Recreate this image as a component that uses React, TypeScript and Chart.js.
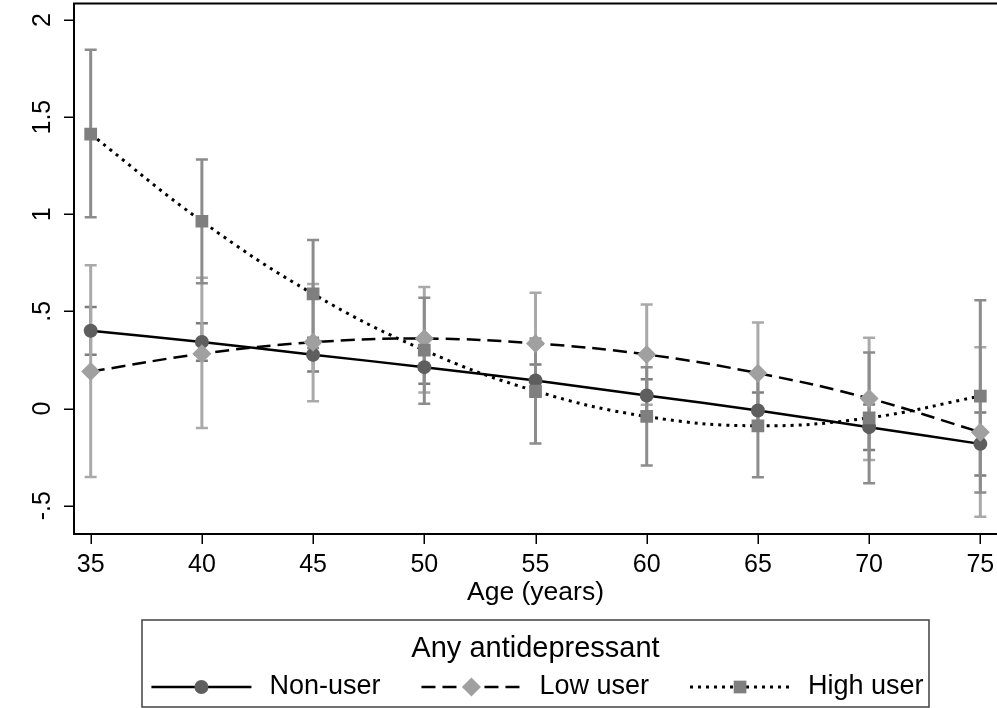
import React, { useEffect, useRef } from "react";
import { Chart, registerables } from "chart.js";

Chart.register(...registerables);

const FONT = '"Liberation Sans", Arial, Helvetica, sans-serif';

// ---- data ----
const ages = [35, 40, 45, 50, 55, 60, 65, 70, 75];

const nonUser = [0.40, 0.343, 0.277, 0.213, 0.144, 0.067, -0.01, -0.096, -0.182];
const nonUserLo = [0.277, 0.246, 0.19, 0.127, 0.06, -0.017, -0.10, -0.213, -0.345];
const nonUserHi = [0.522, 0.439, 0.364, 0.30, 0.227, 0.151, 0.082, 0.021, -0.021];

const lowUser = [0.19, 0.282, 0.341, 0.36, 0.335, 0.278, 0.182, 0.052, -0.122];
const lowUserLo = [-0.353, -0.10, 0.038, 0.082, 0.07, 0.02, -0.08, -0.265, -0.557];
const lowUserHi = [0.737, 0.673, 0.641, 0.625, 0.596, 0.536, 0.443, 0.364, 0.316];

const highUser = [1.413, 0.964, 0.59, 0.30, 0.09, -0.041, -0.089, -0.048, 0.064];
const highUserLo = [0.984, 0.645, 0.312, 0.024, -0.18, -0.294, -0.354, -0.385, -0.433];
const highUserHi = [1.847, 1.282, 0.868, 0.57, 0.36, 0.212, 0.176, 0.289, 0.557];

const xTicks = [35, 40, 45, 50, 55, 60, 65, 70, 75];
const xTickLabels = ["35", "40", "45", "50", "55", "60", "65", "70", "75"];
const yTicks = [-0.5, 0, 0.5, 1, 1.5, 2];
const yTickLabels = ["-.5", "0", ".5", "1", "1.5", "2"];

const seriesNames = ["Non-user", "Low user", "High user"];
const legendTitle = "Any antidepressant";
const xTitle = "Age (years)";

// ---- styles ----
const markerColors = ["#5e5e5e", "#a0a0a0", "#7f7f7f"];
const barColors = ["#7c7c7c", "#a9a9a9", "#8c8c8c"];
const pointStyles = ["circle", "rectRot", "rect"];
const pointRadii = [7, 9.5, 9];
const dashes: number[][] = [[], [14, 7], [3, 5]];
const lineWidths = [2.5, 2.5, 3];

const lows = [nonUserLo, lowUserLo, highUserLo];
const highs = [nonUserHi, lowUserHi, highUserHi];
const values = [nonUser, lowUser, highUser];

function drawMarker(ctx: CanvasRenderingContext2D, style: string, x: number, y: number, r: number, color: string) {
  ctx.save();
  ctx.fillStyle = color;
  ctx.beginPath();
  if (style === "circle") {
    ctx.arc(x, y, r, 0, Math.PI * 2);
  } else if (style === "rectRot") {
    ctx.moveTo(x - r, y);
    ctx.lineTo(x, y - r);
    ctx.lineTo(x + r, y);
    ctx.lineTo(x, y + r);
    ctx.closePath();
  } else {
    const s = Math.SQRT1_2 * r;
    ctx.rect(x - s, y - s, 2 * s, 2 * s);
  }
  ctx.fill();
  ctx.restore();
}

const errorBarPlugin = {
  id: "errorBars",
  beforeDatasetsDraw(chart: any) {
    const ctx: CanvasRenderingContext2D = chart.ctx;
    const xs = chart.scales.x;
    const ys = chart.scales.y;
    ctx.save();
    for (let s = 0; s < 3; s++) {
      ctx.strokeStyle = barColors[s];
      for (let i = 0; i < ages.length; i++) {
        const x = xs.getPixelForValue(ages[i]);
        const y1 = ys.getPixelForValue(lows[s][i]);
        const y2 = ys.getPixelForValue(highs[s][i]);
        ctx.lineWidth = 3;
        ctx.beginPath();
        ctx.moveTo(x, y1);
        ctx.lineTo(x, y2);
        ctx.stroke();
        ctx.lineWidth = 2.5;
        ctx.beginPath();
        ctx.moveTo(x - 6, y1);
        ctx.lineTo(x + 6, y1);
        ctx.moveTo(x - 6, y2);
        ctx.lineTo(x + 6, y2);
        ctx.stroke();
      }
    }
    ctx.restore();
  },
};

const decorPlugin = {
  id: "decor",
  afterDraw(chart: any) {
    const ctx: CanvasRenderingContext2D = chart.ctx;
    const area = chart.chartArea;
    const xs = chart.scales.x;
    const ys = chart.scales.y;
    const W = chart.width;
    ctx.save();
    // frame: top line, bottom axis line, left axis line
    ctx.strokeStyle = "#000";
    ctx.lineWidth = 2;
    ctx.beginPath();
    ctx.moveTo(area.left, area.top);
    ctx.lineTo(W, area.top);
    ctx.moveTo(area.left - 1, area.bottom);
    ctx.lineTo(W, area.bottom);
    ctx.moveTo(area.left, area.top - 1);
    ctx.lineTo(area.left, area.bottom + 1);
    ctx.stroke();

    // tick marks
    ctx.lineWidth = 1.5;
    ctx.beginPath();
    xTicks.forEach((v) => {
      const x = Math.round(xs.getPixelForValue(v)) + 0.25;
      ctx.moveTo(x, area.bottom);
      ctx.lineTo(x, area.bottom + 10);
    });
    yTicks.forEach((v) => {
      const y = Math.round(ys.getPixelForValue(v)) + 0.25;
      ctx.moveTo(area.left, y);
      ctx.lineTo(area.left - 10, y);
    });
    ctx.stroke();

    ctx.fillStyle = "#000";
    ctx.textAlign = "center";
    ctx.textBaseline = "middle";

    // x tick labels
    ctx.font = `25px ${FONT}`;
    xTicks.forEach((v, i) => {
      ctx.fillText(xTickLabels[i], xs.getPixelForValue(v), area.bottom + 31);
    });

    // y tick labels (rotated)
    yTicks.forEach((v, i) => {
      const y = ys.getPixelForValue(v);
      ctx.save();
      ctx.translate(area.left - 31, y);
      ctx.rotate(-Math.PI / 2);
      ctx.fillText(yTickLabels[i], 0, 0);
      ctx.restore();
    });

    const plotCx = (xs.getPixelForValue(34.25) + xs.getPixelForValue(75.75)) / 2;
    // x title
    ctx.font = `26.5px ${FONT}`;
    ctx.fillText(xTitle, plotCx, area.bottom + 59);

    // legend
    const boxTop = area.bottom + 86;
    const boxW = 787;
    const boxH = 87;
    ctx.strokeStyle = "#404040";
    ctx.lineWidth = 1.5;
    ctx.strokeRect(plotCx - boxW / 2, boxTop, boxW, boxH);

    ctx.font = `29px ${FONT}`;
    ctx.fillText(legendTitle, plotCx, boxTop + 29);

    ctx.font = `27px ${FONT}`;
    const sample = 100;
    const gapText = 18;
    const gapEntry = 41;
    const widths = seriesNames.map((n) => ctx.measureText(n).width);
    const total = widths.reduce((a, w) => a + sample + gapText + w, 0) + gapEntry * 2;
    let x = plotCx - total / 2 + 2;
    const ly = boxTop + 67;
    seriesNames.forEach((name, s) => {
      ctx.strokeStyle = "#000";
      ctx.lineWidth = lineWidths[s];
      ctx.setLineDash(dashes[s]);
      ctx.beginPath();
      ctx.moveTo(x, ly);
      ctx.lineTo(x + sample, ly);
      ctx.stroke();
      ctx.setLineDash([]);
      drawMarker(ctx, pointStyles[s], x + sample / 2, ly, pointRadii[s], markerColors[s]);
      ctx.fillStyle = "#000";
      ctx.textAlign = "left";
      ctx.fillText(name, x + sample + gapText, ly);
      x += sample + gapText + widths[s] + gapEntry;
    });
    ctx.restore();
  },
};

export default function App() {
  const ref = useRef<HTMLCanvasElement>(null);
  useEffect(() => {
    const canvas = ref.current;
    if (!canvas) return;
    const datasets = values.map((vals, s) => ({
      label: seriesNames[s],
      data: ages.map((a, i) => ({ x: a, y: vals[i] })),
      borderColor: "#000",
      borderWidth: lineWidths[s],
      borderDash: dashes[s],
      tension: 0.4,
      fill: false,
      pointStyle: pointStyles[s] as any,
      pointRadius: pointRadii[s],
      pointBackgroundColor: markerColors[s],
      pointBorderWidth: 0,
      pointBorderColor: markerColors[s],
      order: 3 - s,
    }));
    const chart = new Chart(canvas, {
      type: "line",
      data: { datasets },
      options: {
        animation: false,
        responsive: false,
        devicePixelRatio: 1,
        layout: { autoPadding: false, padding: { left: 0, right: 0, top: 3.5, bottom: 94 } },
        plugins: { legend: { display: false }, tooltip: { enabled: false } },
        scales: {
          x: {
            type: "linear",
            min: 34.25,
            max: 75.75,
            afterBuildTicks: (s: any) => {
              s.ticks = xTicks.map((v) => ({ value: v }));
            },
            afterFit: (s: any) => {
              s.height = 80;
            },
            grid: { display: false },
            border: { display: false },
            ticks: { display: false },
          },
          y: {
            type: "linear",
            min: -0.646,
            max: 2.085,
            afterBuildTicks: (s: any) => {
              s.ticks = yTicks.map((v) => ({ value: v }));
            },
            afterFit: (s: any) => {
              s.width = 74;
            },
            grid: { display: false },
            border: { display: false },
            ticks: { display: false },
          },
        },
      } as any,
      plugins: [errorBarPlugin, decorPlugin],
    });
    return () => chart.destroy();
  }, []);
  return (
    <div style={{ position: "absolute", left: 0, top: 0, width: 997, height: 708, background: "#fff" }}>
      <canvas ref={ref} width={997} height={708} style={{ display: "block" }} />
    </div>
  );
}
